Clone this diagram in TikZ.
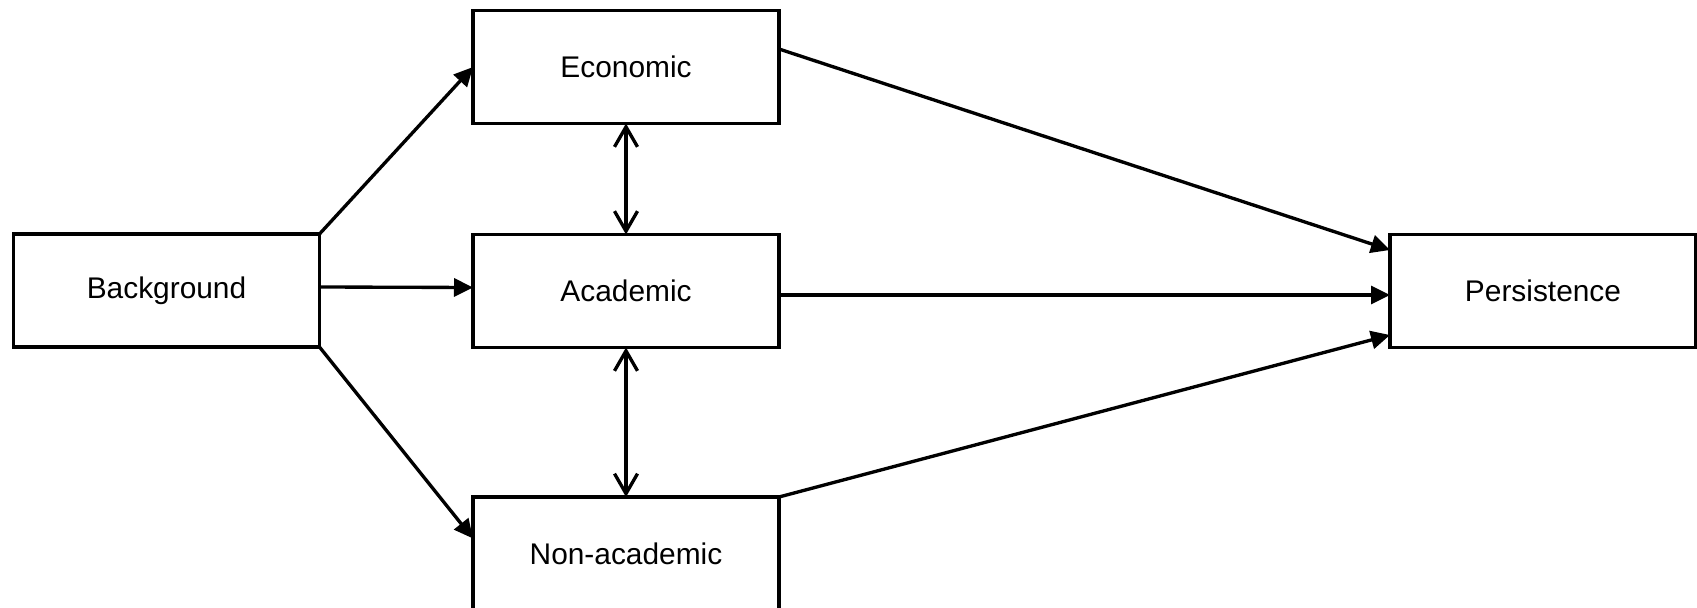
\documentclass[tikz,border=0pt]{standalone}
\usepackage{fontspec}
\setmainfont{Liberation Sans}
\usetikzlibrary{arrows.meta}
\begin{document}
\begin{tikzpicture}
  [factor/.style={rectangle,draw=black,fill=white,line width=1.9pt,align=center,
                  outer sep=0,minimum width=6.12cm,minimum height=2.26cm},
   link/.style={line width=1.9pt,-{Triangle[length=0.38cm,width=0.36cm]}},
   mutual/.style={line width=1.9pt,{Straight Barb[length=0.4cm,width=0.46cm]}-{Straight Barb[length=0.4cm,width=0.46cm]}},
                   every node/.style={font=\fontsize{17}{20}\selectfont}]
  \useasboundingbox (0,0) rectangle (33.94,-12.16);
  \node[factor] (B) at (3.33,-5.81) {Background};
  \node[factor] (E) at (12.52,-1.34) {Economic};
  \node[factor] (A) at (12.52,-5.82) {Academic};
  \node[factor] (N) at (12.52,-11.07) {Non-academic};
  \node[factor] (P) at (30.86,-5.82) {Persistence};
  \draw[link] (B.north east) to (E.west);
  \draw[link] ([yshift=0.07cm]B.east) to ([yshift=0.07cm]A.west);
  \draw[link] (B.south east) to ([yshift=0.3cm]N.west);
  \draw[mutual] (E.south) to (A.north);
  \draw[mutual] (A.south) to (N.north);
  \draw[link] ([yshift=0.36cm]E.east) to ([yshift=0.82cm]P.west);
  \draw[link] ([yshift=-0.08cm]A.east) to ([yshift=-0.08cm]P.west);
  \draw[link] (N.north east) to ([yshift=-0.88cm]P.west);
\end{tikzpicture}
\end{document}
